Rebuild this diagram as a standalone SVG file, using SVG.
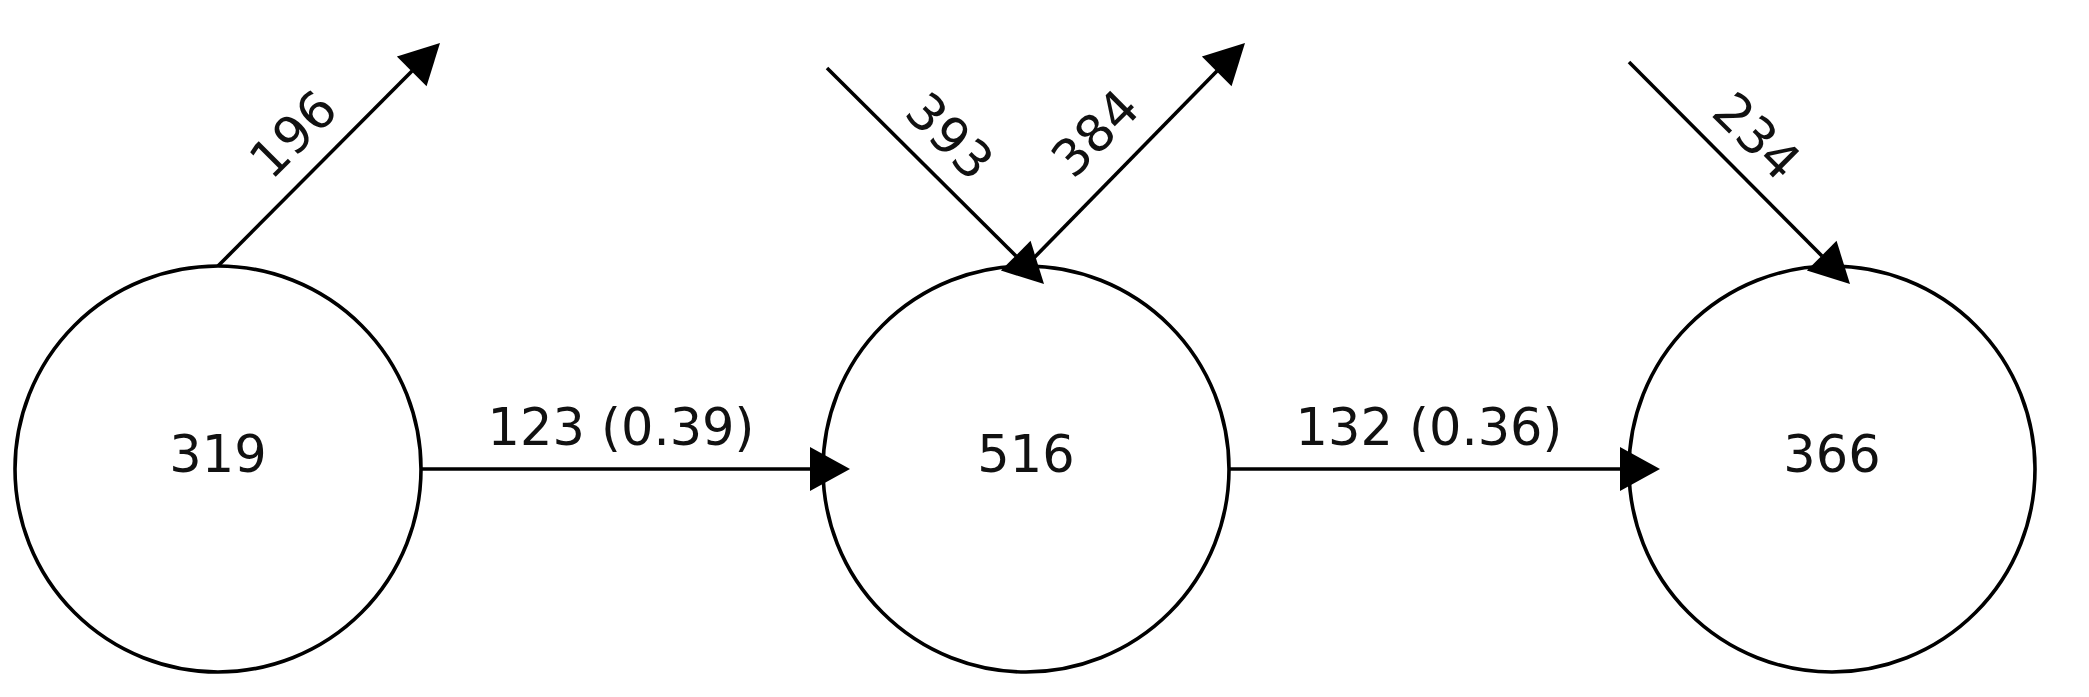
<svg xmlns="http://www.w3.org/2000/svg" width="2089" height="697" viewBox="0 0 2089 697">
<style>
.node{fill:#fff;stroke:#000;stroke-width:3.6}
.edge{stroke:#000;stroke-width:3.6;fill:none}
.head{fill:#000;stroke:none}
text{font-family:"DejaVu Sans","Verdana",sans-serif;font-size:51px;fill:#111}
.c{text-anchor:middle}
</style>
<rect width="2089" height="697" fill="#fff"/>
<g id="node-319"><circle class="node" cx="218" cy="469" r="203"/><text class="c" x="218" y="472">319</text></g>
<g id="node-516"><circle class="node" cx="1026" cy="469" r="203"/><text class="c" x="1026" y="472">516</text></g>
<g id="node-366"><circle class="node" cx="1832" cy="469" r="203"/><text class="c" x="1832" y="472">366</text></g>
<g id="connectors">
  <g id="e-319-516">
    <line class="edge" x1="421" y1="469" x2="812" y2="469"/>
    <polygon class="head" points="850,469 810,447 810,491"/>
    <text class="c" x="621" y="445">123 (0.39)</text>
  </g>
  <g id="e-516-366">
    <line class="edge" x1="1229" y1="469" x2="1622" y2="469"/>
    <polygon class="head" points="1660,469 1620,447 1620,491"/>
    <text class="c" x="1429" y="445">132 (0.36)</text>
  </g>
  <g id="e-319-out">
    <line class="edge" x1="218" y1="266" x2="412" y2="71"/>
    <polygon class="head" points="0,0 -40,-21 -40,21" transform="translate(440,43) rotate(-45)"/>
    <text class="c" transform="translate(293,134) rotate(-45)" y="18">196</text>
  </g>
  <g id="e-in-516">
    <line class="edge" x1="827" y1="68" x2="1016" y2="256"/>
    <polygon class="head" points="0,0 -40,-21 -40,21" transform="translate(1044,284) rotate(45)"/>
    <text class="c" transform="translate(950,136) rotate(45)" y="18">393</text>
  </g>
  <g id="e-516-out">
    <line class="edge" x1="1026" y1="266" x2="1217" y2="71"/>
    <polygon class="head" points="0,0 -40,-21 -40,21" transform="translate(1245,43) rotate(-45)"/>
    <text class="c" transform="translate(1095,133) rotate(-45)" y="18">384</text>
  </g>
  <g id="e-in-366">
    <line class="edge" x1="1629" y1="62" x2="1822" y2="256"/>
    <polygon class="head" points="0,0 -40,-21 -40,21" transform="translate(1850,284) rotate(45)"/>
    <text class="c" transform="translate(1757,136) rotate(45)" y="18">234</text>
  </g>
</g>
</svg>
